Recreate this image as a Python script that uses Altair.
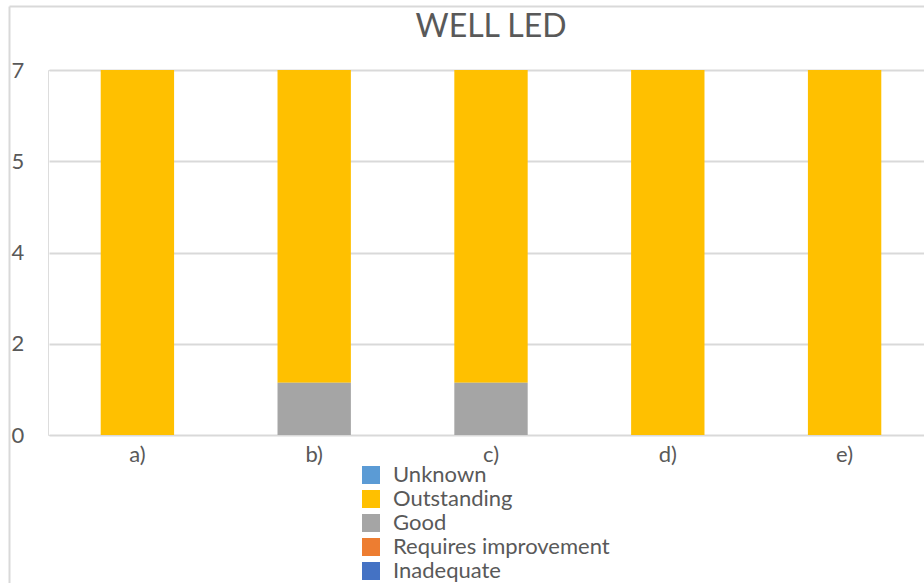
import altair as alt
import pandas as pd

# Ratings per item
categories = ["a)", "b)", "c)", "d)", "e)"]
ratings = ["Unknown", "Outstanding", "Good", "Requires improvement", "Inadequate"]
colors = ["#5B9BD5", "#FFC000", "#A5A5A5", "#ED7D31", "#4472C4"]

unknown = [0, 0, 0, 0, 0]
outstanding = [7, 6, 6, 7, 7]
good = [0, 1, 1, 0, 0]
requires_improvement = [0, 0, 0, 0, 0]
inadequate = [0, 0, 0, 0, 0]

y_ticks = [0, 1.75, 3.5, 5.25, 7]
title_text = "WELL LED"

series = {
    "Unknown": unknown,
    "Outstanding": outstanding,
    "Good": good,
    "Requires improvement": requires_improvement,
    "Inadequate": inadequate,
}
# stacking order: Inadequate at the bottom, Unknown on top
stack_rank = {r: len(ratings) - 1 - i for i, r in enumerate(ratings)}

rows = []
for rating, vals in series.items():
    for cat, v in zip(categories, vals):
        rows.append({"item": cat, "rating": rating, "count": v, "rank": stack_rank[rating]})
df = pd.DataFrame(rows)
single = pd.DataFrame({"title": [title_text]})

FONT = "Lato"
GREY_TEXT = "#595959"
GRID = "#d9d9d9"
LABEL_SIZE = 22

W, H = 876, 365
STEP_RANGE = 884

bars = alt.Chart(df).mark_bar().encode(
    x=alt.X(
        "item:N",
        sort=categories,
        scale=alt.Scale(range=[1, STEP_RANGE + 1], paddingInner=0.585, paddingOuter=0.2925),
        axis=alt.Axis(
            title=None, labelAngle=0, labelFontSize=LABEL_SIZE, labelColor=GREY_TEXT,
            labelFont=FONT, labelPadding=9, ticks=False, domain=False, grid=False,
        ),
    ),
    y=alt.Y(
        "count:Q",
        stack="zero",
        scale=alt.Scale(domain=[0, 7], nice=False),
        axis=alt.Axis(
            title=None, values=y_ticks, format=".0f", labelFontSize=LABEL_SIZE,
            labelColor=GREY_TEXT, labelFont=FONT, labelAlign="left",
            labelPadding=37, tickSize=0, ticks=False, domain=False,
            grid=True, gridColor=GRID, gridWidth=2,
        ),
    ),
    color=alt.Color(
        "rating:N",
        scale=alt.Scale(domain=ratings, range=colors),
        legend=alt.Legend(
            title=None, orient="none", legendX=312, legendY=394,
            symbolType="square", symbolSize=324, symbolStrokeWidth=0,
            labelFontSize=LABEL_SIZE, labelFont=FONT, labelColor=GREY_TEXT,
            labelOffset=11, rowPadding=2, direction="vertical", labelLimit=400,
        ),
    ),
    order=alt.Order("rank:Q", sort="ascending"),
)

# chart heading, centred over the plot area
heading = alt.Chart(single).mark_text(
    font=FONT, fontSize=32, color=GREY_TEXT, baseline="alphabetic", align="center"
).encode(x=alt.value(443), y=alt.value(-33), text="title:N")

# outer frame lines of the chart area
frame_left = alt.Chart(single).mark_rule(color=GRID, strokeWidth=2).encode(
    x=alt.value(-38.5), y=alt.value(-63.5), y2=alt.value(H + 150)
)
frame_top = alt.Chart(single).mark_rule(color=GRID, strokeWidth=2).encode(
    x=alt.value(-38.5), x2=alt.value(W + 10), y=alt.value(-63.5)
)

chart = alt.layer(frame_left, frame_top, bars, heading).properties(
    width=W,
    height=H,
    autosize=alt.AutoSizeParams(type="none"),
    padding={"left": 48, "top": 70, "right": 0, "bottom": 148},
).configure_view(stroke=None).configure(background="white")

chart.save("out.html", embed_options={"renderer": "svg", "actions": False})
